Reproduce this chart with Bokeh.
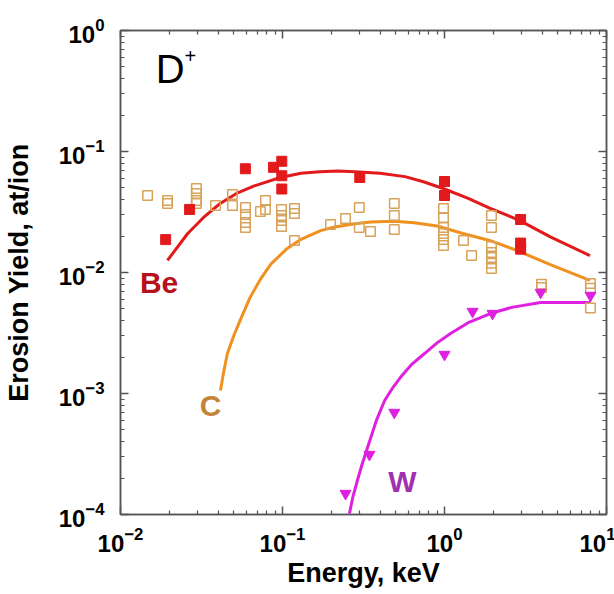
from bokeh.plotting import figure
from bokeh.models import LogAxis, FixedTicker, Label
from bokeh.embed import file_html
from bokeh.resources import INLINE

# ---- data ----
be_line_e = [0.0195, 0.026, 0.033, 0.041, 0.052, 0.067, 0.097, 0.13, 0.17, 0.22, 0.28, 0.40, 0.57,
             0.75, 1.0, 1.4, 1.9, 2.9, 4.5, 7.9]
be_line_y = [0.0126, 0.021, 0.029, 0.037, 0.045, 0.052, 0.061, 0.066, 0.068, 0.069, 0.068, 0.066, 0.062,
             0.056, 0.049, 0.041, 0.034, 0.027, 0.0197, 0.0138]
be_pts_e = [0.019, 0.0267, 0.059, 0.088, 0.099, 0.099, 0.099, 0.30, 1.0, 1.0, 2.95, 2.95, 2.95]
be_pts_y = [0.0187, 0.0332, 0.072, 0.074, 0.083, 0.063, 0.049, 0.061, 0.0565, 0.0433, 0.0274, 0.0175, 0.0156]

c_line_e = [0.0414, 0.0435, 0.0457, 0.050, 0.0551, 0.063, 0.0731, 0.085, 0.107, 0.13, 0.172, 0.21,
            0.28, 0.35, 0.49, 0.65, 0.9, 1.3, 1.9, 2.8, 4.5, 7.9]
c_line_y = [0.00106, 0.00155, 0.00214, 0.0030, 0.0041, 0.0062, 0.0088, 0.0118, 0.0158, 0.0188, 0.0222, 0.0238,
            0.0253, 0.0262, 0.0265, 0.0258, 0.0242, 0.021, 0.0184, 0.0152, 0.0116, 0.0086]
c_pts_e = [0.0147, 0.0195, 0.0195, 0.0294, 0.0294, 0.0294, 0.0294, 0.0386, 0.0491, 0.0491,
           0.0591, 0.0591, 0.0591, 0.0591, 0.0731, 0.0785, 0.0785, 0.0986, 0.0986, 0.0986, 0.0986,
           0.1186, 0.1186, 0.1186, 0.198, 0.245, 0.298, 0.298, 0.349,
           0.49, 0.49, 0.49, 0.986, 0.986, 0.986, 0.986, 0.986, 0.986, 1.31, 1.47,
           1.95, 1.95, 1.95, 1.95, 1.95, 1.95, 1.95, 3.97, 3.97, 7.96, 7.96, 7.96]
c_pts_y = [0.0433, 0.0394, 0.0372, 0.0494, 0.045, 0.0394, 0.0372, 0.0358, 0.0441, 0.0358,
           0.0344, 0.0301, 0.0259, 0.0235, 0.0319, 0.0394, 0.0332, 0.0332, 0.0296, 0.0269, 0.024,
           0.0338, 0.0307, 0.0184, 0.0249, 0.0279, 0.0344, 0.0235, 0.0218,
           0.0372, 0.0296, 0.0227, 0.0338, 0.0285, 0.0235, 0.021, 0.0187, 0.0167, 0.0184, 0.0138,
           0.0296, 0.0235, 0.0164, 0.0146, 0.0133, 0.0119, 0.0108, 0.0080, 0.0075, 0.0081, 0.0074, 0.0051]

w_line_e = [0.259, 0.272, 0.290, 0.310, 0.335, 0.38, 0.427, 0.48, 0.535, 0.63, 0.753, 0.9, 1.09,
            1.4, 1.92, 2.6, 3.92, 7.96]
w_line_y = [1.02e-4, 1.40e-4, 1.91e-4, 2.60e-4, 3.58e-4, 6.0e-4, 8.75e-4, 1.12e-3, 1.36e-3, 1.75e-3,
            2.14e-3, 2.62e-3, 3.13e-3, 3.85e-3, 4.58e-3, 5.15e-3, 5.65e-3, 5.65e-3]
w_pts_e = [0.245, 0.344, 0.49, 1.0, 1.49, 1.98, 3.92, 7.96]
w_pts_y = [1.49e-4, 3.13e-4, 6.97e-4, 2.10e-3, 4.76e-3, 4.58e-3, 6.84e-3, 6.46e-3]

series_names = ["Be", "C", "W"]
name_e = [0.0173, 0.036, 0.55]
name_y = [0.00826, 7.96e-4, 1.87e-4]
ion_label = "D"
ion_charge = "+"
ion_e = 0.0203
ion_y = 0.48

x_major = [1e-2, 1e-1, 1e0, 1e1]
x_minor = [m * 10.0 ** k for k in (-2, -1, 0) for m in range(2, 10)]
y_major = [1e-4, 1e-3, 1e-2, 1e-1, 1e0]
y_minor = [m * 10.0 ** k for k in (-4, -3, -2, -1) for m in range(2, 10)]

# ---- colours ----
BE = "#e31a1c"
BE_TXT = "#b5121b"
C_LINE = "#f0901e"
C_MARK = "#d8a25a"
C_TXT = "#c4853a"
W = "#e020e0"
W_TXT = "#a030b0"
AX = "#555555"

p = figure(x_axis_type="log", y_axis_type="log",
           x_range=(1e-2, 1e1), y_range=(1e-4, 1e0),
           frame_width=486, frame_height=484,
           min_border_left=113, min_border_top=30, min_border_right=9, min_border_bottom=80,
           output_backend="svg", toolbar_location=None)
p.xgrid.visible = False
p.ygrid.visible = False
p.outline_line_color = AX
p.outline_line_width = 1.5

xt = FixedTicker(ticks=x_major, minor_ticks=x_minor)
yt = FixedTicker(ticks=y_major, minor_ticks=y_minor)

def style(ax, labels=True):
    ax.axis_line_color = AX
    ax.axis_line_width = 1.5
    ax.major_tick_line_color = AX
    ax.minor_tick_line_color = AX
    ax.major_tick_line_width = 1.5
    ax.minor_tick_line_width = 1.2
    ax.major_tick_in = 8
    ax.major_tick_out = 0
    ax.minor_tick_in = 4
    ax.minor_tick_out = 0
    if labels:
        ax.major_label_text_font = "Liberation Sans"
        ax.major_label_text_font_style = "bold"
        ax.major_label_text_font_size = "24px"
        ax.major_label_text_color = "black"
        ax.axis_label_text_font = "Liberation Sans"
        ax.axis_label_text_font_style = "bold"
        ax.axis_label_text_font_size = "27px"
        ax.axis_label_text_color = "black"
    else:
        ax.major_label_text_font_size = "2px"
        ax.major_label_text_alpha = 0.0
        ax.major_label_standoff = 0

xa = p.xaxis[0]
xa.ticker = xt
xa.axis_label = "Energy, keV"
xa.major_label_standoff = 12
xa.axis_label_standoff = 3
style(xa)

ya = p.yaxis[0]
ya.ticker = yt
ya.axis_label = "Erosion Yield, at/ion"
ya.major_label_standoff = 16
ya.axis_label_standoff = 22
style(ya)

top = LogAxis(ticker=FixedTicker(ticks=x_major, minor_ticks=x_minor))
style(top, labels=False)
p.add_layout(top, "above")
right = LogAxis(ticker=FixedTicker(ticks=y_major, minor_ticks=y_minor))
style(right, labels=False)
p.add_layout(right, "right")

# lines
p.line(be_line_e, be_line_y, line_color=BE, line_width=3)
p.line(c_line_e, c_line_y, line_color=C_LINE, line_width=3)
p.line(w_line_e, w_line_y, line_color=W, line_width=3)

# markers
p.scatter(c_pts_e, c_pts_y, marker="square", size=9.5, fill_color="white", fill_alpha=0.0,
          line_color=C_MARK, line_width=1.5)
p.scatter(be_pts_e, be_pts_y, marker="square", size=10, fill_color=BE, line_color=BE)
p.scatter(w_pts_e, w_pts_y, marker="inverted_triangle", size=11, fill_color=W, line_color=W)

# series names
for name, e, y, col in zip(series_names, name_e, name_y, [BE_TXT, C_TXT, W_TXT]):
    p.add_layout(Label(x=e, y=y, text=name, text_align="center", text_baseline="middle",
                       text_font="Liberation Sans", text_font_style="bold",
                       text_font_size="30px", text_color=col))

p.add_layout(Label(x=ion_e, y=ion_y, text=ion_label, text_align="center", text_baseline="middle",
                   text_font="Liberation Sans", text_font_size="40px", text_color="black"))
p.add_layout(Label(x=ion_e, y=ion_y, x_offset=20, y_offset=13, text=ion_charge,
                   text_align="center", text_baseline="middle",
                   text_font="Liberation Sans", text_font_size="20px", text_color="black"))

open("out.html", "w").write(file_html(p, INLINE))
